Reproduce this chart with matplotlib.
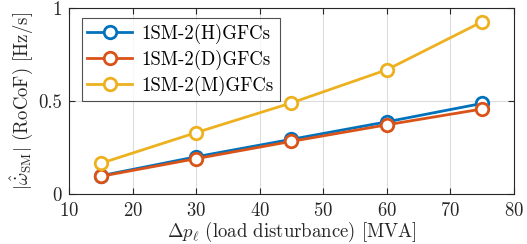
import matplotlib
matplotlib.use("Agg")
import matplotlib.pyplot as plt

plt.rcParams['font.family'] = 'serif'
plt.rcParams['font.serif'] = ['cmr10']
plt.rcParams['mathtext.fontset'] = 'cm'
plt.rcParams['axes.formatter.use_mathtext'] = True

x = [15, 30, 45, 60, 75]
h_vals = [0.098, 0.200, 0.294, 0.388, 0.487]
d_vals = [0.095, 0.190, 0.283, 0.372, 0.457]
m_vals = [0.165, 0.330, 0.490, 0.668, 0.926]
labels = ['1SM-2(H)GFCs', '1SM-2(D)GFCs', '1SM-2(M)GFCs']
colors = ['#0072BD', '#D95319', '#EDB120']
xticks = [10, 20, 30, 40, 50, 60, 70, 80]
yticks = [0, 0.5, 1]
ytick_labels = ['0', '0.5', '1']

fs = 13.5
fig = plt.figure(figsize=(5.27, 2.44), dpi=100)
ax = fig.add_axes([0.131, 0.205, 0.844, 0.762])

for vals, lab, c in zip([h_vals, d_vals, m_vals], labels, colors):
    ax.plot(x, vals, '-o', color=c, lw=2.0, ms=9, mew=2.0,
            mfc='white', label=lab)

ax.set_xlim(10, 80)
ax.set_ylim(0, 1)
ax.set_xticks(xticks)
ax.set_yticks(yticks)
ax.set_yticklabels(ytick_labels)
ax.grid(True, color='#dcdcdc', lw=0.8)
ax.set_axisbelow(True)
ax.tick_params(direction='in', top=True, right=True, labelsize=fs,
               length=4, width=0.8, color='#262626', labelcolor='#262626')
ax.tick_params(axis='x', pad=6)
ax.tick_params(axis='y', pad=5)
for s in ax.spines.values():
    s.set_color('#262626')
    s.set_linewidth(0.8)

ax.set_xlabel(r'$\Delta p_\ell$ (load disturbance) [MVA]', fontsize=fs, color='#262626', labelpad=0)
ax.set_ylabel(r'$|\hat{\dot{\omega}}_{\rm SM}|$ (RoCoF) [Hz/s]', fontsize=fs, color='#262626', labelpad=2)

leg = ax.legend(loc='upper left', bbox_to_anchor=(0.02, 0.965), fontsize=fs,
                frameon=True, fancybox=False, edgecolor='#262626',
                handlelength=2.4, borderpad=0.3, labelspacing=0.3,
                handletextpad=0.5, borderaxespad=0.2)
leg.get_frame().set_linewidth(0.8)

fig.savefig('out.png', dpi=100)
